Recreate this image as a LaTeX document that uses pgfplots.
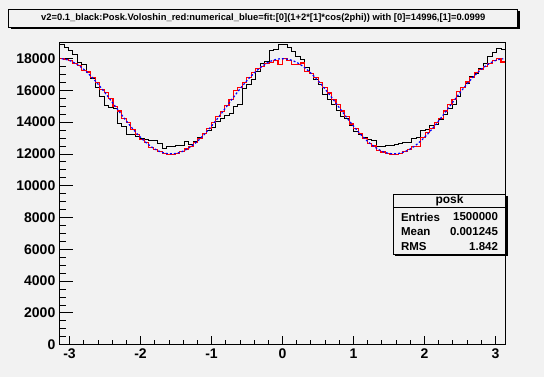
\documentclass[border=0pt]{standalone}
\usepackage{pgfplots}
\pgfplotsset{compat=1.18}
\usepackage{pgfplotstable}
\usepackage{graphicx}
\usepackage{fontspec}
\setmainfont{Liberation Sans}
\definecolor{canvas}{RGB}{242,242,242}
\pgfplotstableread{
i black red fit
0 18873 18020 17986
1 18705 17960 17939
2 18516 17880 17846
3 18285 17690 17707
4 17782 17560 17526
5 17600 17250 17305
6 17100 17150 17047
7 16720 16820 16757
8 16200 16500 16439
9 15600 16050 16099
10 15050 15850 15741
11 14950 15460 15372
12 14880 14980 14996
13 13945 14700 14620
14 13735 14220 14251
15 13253 13950 13893
16 13211 13520 13553
17 13106 13200 13235
18 13001 12920 12945
19 12896 12700 12687
20 12833 12420 12466
21 12833 12260 12285
22 12686 12150 12146
23 12372 12000 12053
24 12477 11960 12006
25 12498 11980 12006
26 12519 12020 12053
27 12540 12130 12146
28 12791 12310 12285
29 12582 12450 12466
30 12791 12700 12687
31 13043 12960 12945
32 13316 13300 13235
33 13462 13600 13553
34 13672 13950 13893
35 14050 14330 14251
36 14259 14680 14620
37 14427 15050 14996
38 14574 15450 15372
39 14993 15980 15741
40 15098 16150 16099
41 16147 16480 16439
42 16356 16820 16757
43 16671 17100 17047
44 17195 17350 17305
45 17719 17480 17526
46 17824 17680 17707
47 18495 17760 17846
48 18558 17850 17939
49 18915 17650 17986
50 18873 18000 17986
51 18705 17880 17939
52 18453 17640 17846
53 18139 17620 17707
54 17929 17720 17526
55 17447 17200 17305
56 17090 17050 17047
57 16671 16780 16757
58 16356 16500 16439
59 15727 16200 16099
60 15413 15830 15741
61 15098 15450 15372
62 14721 15080 14996
63 14364 14700 14620
64 14259 14350 14251
65 13798 13880 13893
66 13420 13600 13553
67 13253 13260 13235
68 13043 12990 12945
69 12896 12650 12687
70 12833 12500 12466
71 12477 12240 12285
72 12498 12120 12146
73 12540 12030 12053
74 12561 11990 12006
75 12582 11990 12006
76 12665 12040 12053
77 12728 12150 12146
78 12707 12290 12285
79 13001 12480 12466
80 13043 12470 12687
81 13462 13050 12945
82 13525 13350 13235
83 13798 13600 13553
84 13882 13950 13893
85 14155 14230 14251
86 14511 14700 14620
87 14846 15120 14996
88 15098 15450 15372
89 15622 15900 15741
90 16189 16200 16099
91 16461 16520 16439
92 16880 16780 16757
93 17090 17100 17047
94 17405 17300 17305
95 17719 17500 17526
96 18139 17700 17707
97 18411 17860 17846
98 18663 17980 17939
99 18558 17780 17986
100 18558 17780 nan
}\histdata
\begin{document}
\begin{tikzpicture}[x=1pt,y=1pt]
\fill[white] (0,0) rectangle (554,379);
\fill[canvas] (0,2) rectangle (544,379);
\begin{axis}[
  at={(59.5pt,34.3pt)}, anchor=south west,
  scale only axis, width=446pt, height=302.4pt,
  xmin=-3.14159, xmax=3.14159, ymin=0, ymax=19020,
  axis background/.style={fill=canvas},
  axis line style={line width=0.9pt},
  xtick={-3,-2,-1,0,1,2,3}, minor x tick num=4,
  ytick={0,2000,4000,6000,8000,10000,12000,14000,16000,18000}, minor y tick num=3,
  xtick pos=bottom, ytick pos=left,
  tick align=inside,
  major tick length=9pt, minor tick length=4.5pt,
  y tick style={/pgfplots/major tick length=13.4pt, /pgfplots/minor tick length=6.7pt},
  tick style={black, line width=0.8pt},
  scaled y ticks=false,
  /pgf/number format/fixed,
  /pgf/number format/1000 sep={},
  /pgf/number format/assume math mode=true,
  ticklabel style={font=\fontsize{14}{16}\selectfont\bfseries},
  xticklabel style={inner sep=1pt, yshift=-3pt},
  yticklabel style={inner sep=1pt, xshift=-3pt},
  clip=true,
]
\addplot[const plot, black, line width=0.9pt] table[x expr={-pi+\thisrow{i}*pi/50}, y=black] {\histdata};
\addplot[const plot, red, line width=1.1pt] table[x expr={-pi+\thisrow{i}*pi/50}, y=red] {\histdata};
\addplot[blue, line width=1.2pt, dash pattern=on 2pt off 2pt] table[x expr={-pi+(\thisrow{i}+0.5)*pi/50}, y=fit] {\histdata};
\end{axis}
% title box
\fill[black] (10.8,350) rectangle (519.7,368);
\filldraw[fill=canvas, draw=black, line width=0.8pt] (8.8,352) rectangle (517.7,370);
\node at (263.25,361) {\resizebox{444pt}{!}{\bfseries v2=0.1\_black:Posk.Voloshin\_red:numerical\_blue=fit:[0](1+2*[1]*cos(2phi)) with [0]=14996,[1]=0.0999}};
% stats box
\fill[black] (395.3,123) rectangle (507.7,182.7);
\filldraw[fill=canvas, draw=black, line width=0.8pt] (393.3,125) rectangle (505.7,184.7);
\draw[black, line width=0.8pt] (393.3,171.7) -- (505.7,171.7);
\node[font=\fontsize{12}{14}\selectfont\bfseries] at (449.5,178.2) {posk};
\node[font=\fontsize{11.5}{14}\selectfont\bfseries, anchor=west] at (397.5,162) {Entries};
\node[font=\fontsize{11.5}{14}\selectfont\bfseries, anchor=east] at (501.5,162) {1500000};
\node[font=\fontsize{11.5}{14}\selectfont\bfseries, anchor=west] at (397.5,147.3) {Mean};
\node[font=\fontsize{11.5}{14}\selectfont\bfseries, anchor=east] at (501.5,147.3) {0.001245};
\node[font=\fontsize{11.5}{14}\selectfont\bfseries, anchor=west] at (397.5,132.3) {RMS};
\node[font=\fontsize{11.5}{14}\selectfont\bfseries, anchor=east] at (501.5,132.3) {1.842};
\pgfresetboundingbox
\path[use as bounding box] (0,0) rectangle (554,379);
\end{tikzpicture}
\end{document}
